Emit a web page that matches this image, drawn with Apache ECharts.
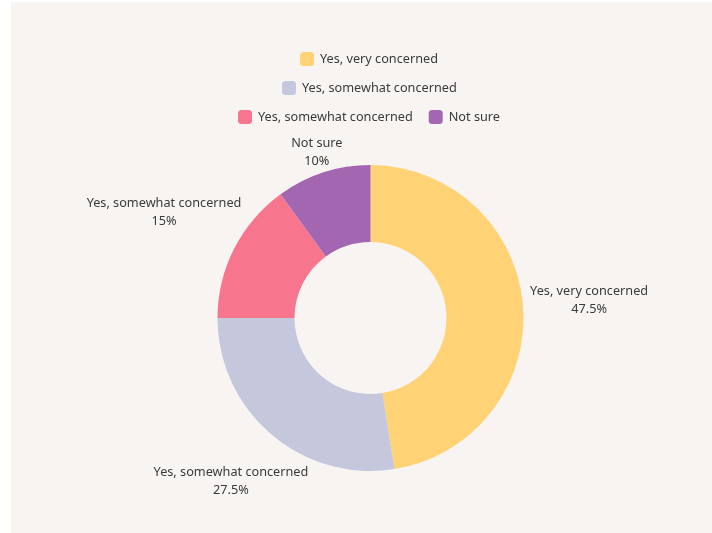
<!DOCTYPE html>
<html>
<head>
<meta charset="utf-8">
<script src="https://cdn.jsdelivr.net/npm/echarts@6/dist/echarts.min.js"></script>
<style>
  html, body { margin: 0; padding: 0; background: #ffffff; width: 712px; height: 533px; overflow: hidden; }
  #chart { position: absolute; left: 11px; top: 2px; width: 701px; height: 531px; }
</style>
</head>
<body>
<div id="chart"></div>
<script>
// Survey answers and their share of respondents (%)
const categories = ['Yes, very concerned', 'Yes, somewhat concerned', 'Yes, somewhat concerned', 'Not sure'];
const values = [47.5, 27.5, 15, 10];
const colors = ['#FFD275', '#C5C7DD', '#F7768E', '#A366B1'];
// Legend rows: indices of the slices shown on each row
const legendRows = [[0], [1], [2, 3]];

// Two answers share the same wording; make their internal keys unique with zero-width spaces
const seen = {};
const keys = categories.map(function (c) {
  seen[c] = (seen[c] || 0) + 1;
  return c + '\u200b'.repeat(seen[c] - 1);
});
const clean = function (s) { return s.replace(/\u200b/g, ''); };

const CX = 359.5, CY = 316, R_OUT = 153, R_IN = 76;
const LABEL_GAP = 7, LINE_H = 18, LABEL_HALF_H = 6;
const total = values.reduce(function (a, b) { return a + b; }, 0);
const textColor = '#3a3a3a';
const font = 'Noto Sans';
const fontSize = 12.7;

// Text measurement for sizing the centred two-line labels
const ctx = document.createElement('canvas').getContext('2d');
ctx.font = fontSize + 'px "' + font + '"';
const textWidth = function (s) { return Math.ceil(ctx.measureText(s).width); };

const legendLeft = [289, 271, 227];
const legendTop = [50, 79, 108];

const legends = legendRows.map(function (row, r) {
  return {
    data: row.map(function (i) { return keys[i]; }),
    left: legendLeft[r],
    top: legendTop[r],
    padding: 0,
    orient: 'horizontal',
    icon: 'roundRect',
    itemWidth: 14,
    itemHeight: 14,
    itemGap: 16,
    itemStyle: { borderWidth: 0 },
    textStyle: { color: textColor, fontFamily: font, fontSize: fontSize, padding: [0, 0, 0, 1] },
    formatter: clean,
    selectedMode: false
  };
});

// Each label sits on the radial line through its slice's middle, with its box just clear of the ring
let before = 0;
const pieData = keys.map(function (k, i) {
  const mid = (before + values[i] / 2) / total * Math.PI * 2;
  before += values[i];
  const vx = Math.sin(mid), vy = -Math.cos(mid);
  const w = Math.max(textWidth(clean(k)), textWidth(values[i] + '%'));
  const reach = LABEL_GAP + (w / 2) * Math.abs(vx) + LABEL_HALF_H * Math.abs(vy);
  return {
    name: k,
    value: values[i],
    itemStyle: { color: colors[i] },
    label: {
      distanceToLabelLine: -w / 2,
      rich: { t: { width: w, align: 'center', lineHeight: LINE_H, fontFamily: font, fontSize: fontSize, color: textColor } }
    },
    labelLine: { length: reach, length2: 0 }
  };
});

const chart = echarts.init(document.getElementById('chart'));
chart.setOption({
  backgroundColor: '#F8F4F1',
  animation: false,
  legend: legends,
  series: [{
    type: 'pie',
    center: [CX, CY],
    radius: [R_IN, R_OUT],
    startAngle: 90,
    clockwise: true,
    avoidLabelOverlap: false,
    data: pieData,
    label: {
      show: true,
      position: 'outside',
      alignTo: 'none',
      color: textColor,
      fontFamily: font,
      fontSize: fontSize,
      lineHeight: LINE_H,
      formatter: function (p) { return '{t|' + clean(p.name) + '}\n{t|' + p.value + '%}'; }
    },
    labelLine: { show: true, lineStyle: { opacity: 0, width: 0 } },
    emphasis: { disabled: true }
  }]
});
</script>
</body>
</html>
